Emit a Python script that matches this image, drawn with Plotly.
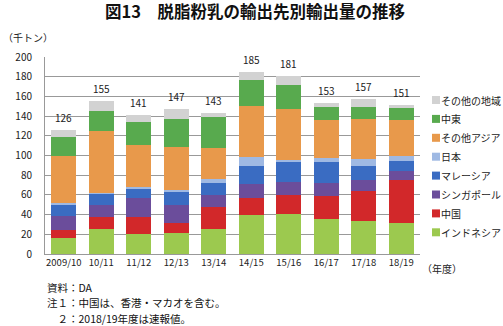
import plotly.graph_objects as go

years = ["2009/10", "10/11", "11/12", "12/13", "13/14", "14/15", "15/16", "16/17", "17/18", "18/19"]

indonesia = [16, 25, 20.5, 21.3, 25.5, 39.5, 40.5, 35.5, 33.5, 31.5]
china = [8.5, 12.5, 17, 10.1, 22, 17.5, 19.5, 23.5, 30, 44]
singapore = [14.5, 12.5, 19.5, 18.6, 12.5, 14.5, 13.5, 13, 12, 8.5]
malaysia = [11.5, 11.5, 10, 13.5, 12, 18, 20.5, 21, 13.5, 10]
japan = [1.5, 0.5, 0.8, 1.5, 4, 9, 1.5, 4, 7.5, 5]
other_asia = [47.5, 62.5, 43, 44, 31.5, 51.5, 51.5, 39, 40.5, 37]
middle_east = [19, 21, 23.2, 28, 31.5, 27, 24.5, 13, 12, 12.5]
other_regions = [7.5, 9.5, 7, 10, 4, 8, 9.5, 4, 8, 2.5]

series = [
    ("インドネシア", indonesia, "#9cc94f"),
    ("中国", china, "#d2282a"),
    ("シンガポール", singapore, "#6b4d9b"),
    ("マレーシア", malaysia, "#3a6cc2"),
    ("日本", japan, "#9fb9e3"),
    ("その他アジア", other_asia, "#e8994b"),
    ("中東", middle_east, "#58aa4e"),
    ("その他の地域", other_regions, "#d2d2d2"),
]

FONT = "Noto Sans CJK JP"
PLOT_H = 197.0  # plot area height in px, used for key spacing

fig = go.Figure()
for name, vals, color in series:
    fig.add_trace(go.Bar(
        x=years, y=vals, name=name, marker_color=color,
        marker_line_width=0, showlegend=False,
    ))

totals = [sum(v[k] for _, v, _ in series) for k in range(len(years))]
for yr, t in zip(years, totals):
    fig.add_annotation(x=yr, y=t, text=f"{round(t)}", showarrow=False,
                       yanchor="bottom", yshift=3, font=dict(size=10, color="#222"))

# key on the right, listed top-down from the last stacked series
key_top = (254 - 100) / PLOT_H
key_step = 18.9 / PLOT_H
for j, (name, vals, color) in enumerate(reversed(series)):
    yc = key_top - j * key_step
    half = 4 / PLOT_H
    fig.add_shape(type="rect", xref="paper", yref="paper",
                  x0=1.0 + 12 / 375, x1=1.0 + 20 / 375, y0=yc - half, y1=yc + half,
                  fillcolor=color, line_width=0)
    fig.add_annotation(xref="paper", yref="paper", x=1.0 + 20 / 375, y=yc, text=name,
                       showarrow=False, xanchor="left", yanchor="middle", xshift=-1,
                       font=dict(size=10, color="#222"))

fig.add_annotation(xref="paper", yref="paper", x=-0.117, y=1.10, text="（千トン）",
                   showarrow=False, xanchor="left", yanchor="middle",
                   font=dict(size=10, color="#222"))
fig.add_annotation(xref="paper", yref="paper", x=1.0, y=0, text="（年度）",
                   showarrow=False, xanchor="left", yanchor="middle", yshift=-14,
                   font=dict(size=10, color="#222"))
notes = [
    ("資料：DA", 0),
    ("注１：中国は、香港・マカオを含む。", 1),
    ("　２：2018/19年度は速報値。", 2),
]
for text, k in notes:
    fig.add_annotation(xref="paper", yref="paper", x=0, y=0, text=text,
                       showarrow=False, xanchor="left", yanchor="middle",
                       yshift=-33 - 15.5 * k, font=dict(size=10.5, color="#111"))

fig.update_layout(
    width=503, height=326,
    margin=dict(l=45, r=83, t=57, b=72),
    barmode="stack", bargap=0.33,
    paper_bgcolor="white", plot_bgcolor="white",
    font=dict(family=FONT, size=10, color="#222"),
    title=dict(text="<b>図13　脱脂粉乳の輸出先別輸出量の推移</b>", x=0.507, xanchor="center",
               y=0.963, yanchor="middle", font=dict(size=16.5, color="#111", family=FONT)),
    showlegend=False,
    xaxis=dict(showgrid=False, ticks="", showline=True, linecolor="#999", linewidth=1,
               tickangle=0, tickfont=dict(size=9.5)),
    yaxis=dict(range=[0, 200], dtick=20, showgrid=True, gridcolor="#999", gridwidth=1,
               showline=True, linecolor="#999", linewidth=1, ticks="",
               ticklabelstandoff=10, zeroline=False, tickfont=dict(size=10)),
)

fig.write_html("out.html")
